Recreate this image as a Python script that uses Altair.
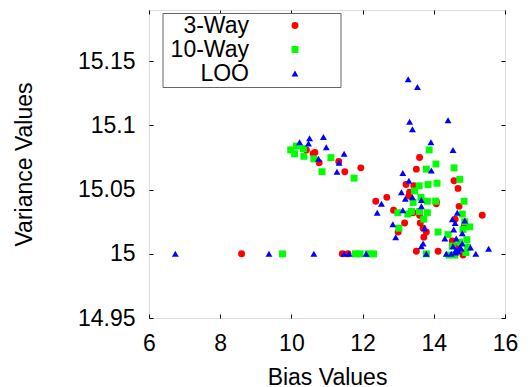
import altair as alt
import pandas as pd

# ---- data ----
series_names = ["3-Way", "10-Way", "LOO"]
series_colors = ["#ff0000", "#00ff00", "#0000ff"]
series_shapes = ["circle", "square", "triangle-up"]

x_3way = [8.60, 11.43, 11.59, 10.42, 10.61, 10.66, 10.78, 11.33, 11.50, 11.95,
          12.37, 12.68, 12.87, 13.00, 13.18, 13.22, 13.30, 13.32, 13.44, 13.42,
          13.51, 13.60, 13.60, 13.62, 13.70, 13.72, 13.79, 13.51, 14.12, 14.07,
          14.07, 14.57, 14.68, 14.71, 14.60, 14.52, 14.66, 14.82, 15.36, 14.86]
y_3way = [15.0, 15.0, 15.0, 15.081, 15.078, 15.079, 15.071, 15.072, 15.064, 15.067,
          15.041, 15.044, 15.034, 15.017, 15.024, 15.054, 15.045, 15.048, 15.053, 15.032,
          15.066, 15.075, 15.030, 15.024, 15.020, 15.013, 15.017, 15.002, 15.002, 15.039,
          15.041, 15.057, 15.051, 15.037, 15.027, 15.010, 15.006, 14.999, 15.030, 15.022]

x_10way = [9.75, 11.80, 11.93, 12.16, 12.31, 9.98, 10.09, 10.14, 10.34, 10.35,
           10.63, 10.86, 11.11, 11.76, 13.87, 14.06, 13.79, 14.57, 14.73, 13.59,
           13.84, 14.09, 13.46, 13.64, 13.42, 13.82, 14.05, 14.85, 12.99, 13.27,
           13.37, 13.60, 13.82, 13.72, 14.80, 13.02, 14.12, 14.40, 14.87, 15.01,
           14.82, 14.93, 14.52, 14.73, 13.79, 14.43, 14.59, 14.90, 14.95]
y_10way = [15.0, 15.0, 15.0, 15.0, 15.0, 15.081, 15.078, 15.084, 15.082, 15.076,
           15.074, 15.064, 15.075, 15.059, 15.081, 15.070, 15.066, 15.067, 15.058, 15.053,
           15.054, 15.055, 15.049, 15.044, 15.040, 15.041, 15.041, 15.041, 15.032, 15.031,
           15.033, 15.033, 15.032, 15.027, 15.031, 15.020, 15.017, 15.015, 15.025, 15.021,
           15.019, 15.011, 15.006, 15.009, 15.0, 14.999, 14.999, 15.001, 15.005]

x_loo = [6.74, 9.37, 10.63, 11.48, 11.62, 12.10, 10.23, 10.48, 10.51, 10.90,
         10.98, 11.48, 10.76, 11.34, 11.28, 13.28, 13.54, 13.32, 13.40, 14.40,
         13.92, 14.54, 13.93, 13.13, 13.30, 13.09, 13.20, 13.40, 13.65, 12.53,
         12.41, 13.13, 13.65, 14.66, 12.85, 12.93, 13.74, 13.70, 13.65, 13.79,
         14.52, 14.60, 14.56, 14.80, 14.31, 14.87, 14.80, 14.73, 14.77, 14.68,
         15.03, 15.18, 15.54, 14.35, 14.49, 14.61, 14.68, 14.63, 14.54, 14.62]
y_loo = [15.0, 15.0, 15.0, 15.0, 15.0, 15.0, 15.087, 15.086, 15.090, 15.091,
         15.083, 15.078, 15.074, 15.071, 15.064, 15.136, 15.130, 15.103, 15.097, 15.104,
         15.087, 15.081, 15.065, 15.063, 15.057, 15.048, 15.043, 15.044, 15.042, 15.039,
         15.032, 15.034, 15.037, 15.032, 15.023, 15.013, 15.020, 15.008, 15.006, 15.0,
         15.027, 15.024, 15.019, 15.016, 15.012, 15.026, 15.008, 15.005, 15.004, 15.002,
         15.005, 15.0, 15.004, 15.0, 15.0, 15.001, 15.002, 15.012, 15.006, 15.003]

x_ticks = [6, 8, 10, 12, 14, 16]
y_ticks = [14.95, 15.0, 15.05, 15.1, 15.15]

rows = []
for name, xs, ys in [("3-Way", x_3way, y_3way), ("10-Way", x_10way, y_10way), ("LOO", x_loo, y_loo)]:
    for xv, yv in zip(xs, ys):
        rows.append({"Method": name, "Bias": xv, "Variance": yv})
df = pd.DataFrame(rows)

FONT = "Liberation Sans"
NBSP = "\u00a0"
ZWSP = "\u200b"
xscale = alt.Scale(domain=[6, 16], nice=False, zero=False)
yscale = alt.Scale(domain=[14.95, 15.19], nice=False, zero=False)

# legend: labels right-aligned, to the left of their symbols (gnuplot style)
color_enc = alt.Color(
    "Method:N",
    scale=alt.Scale(domain=series_names, range=series_colors),
    sort=series_names,
    legend=alt.Legend(
        orient="none", legendX=13.5, legendY=3,
        title=NBSP, titleOrient="right", titlePadding=33, titleFontSize=23,
        labelAlign="right", labelOffset=0, symbolOffset=120,
        labelExpr="datum.label + '" + NBSP * 9 + ZWSP + "'",
        labelFontSize=23, labelFont=FONT, labelColor="black",
        labelLimit=0, symbolSize=48, symbolStrokeWidth=0,
        padding=1, rowPadding=0,
        strokeColor="#666666", fillColor="white",
    ),
)
shape_enc = alt.Shape(
    "Method:N",
    scale=alt.Scale(domain=series_names, range=series_shapes),
    sort=series_names,
    legend=None,
)

points = alt.Chart(df).mark_point(filled=True, size=48, opacity=1).encode(
    x=alt.X("Bias:Q", scale=xscale, title="Bias Values",
            axis=alt.Axis(values=x_ticks, format="~g", domain=False, tickSize=0,
                          labelPadding=14, labelFontSize=23, labelFont=FONT,
                          labelColor="black", titleFontSize=23, titleFont=FONT,
                          titleFontWeight="normal", titleColor="black",
                          titleY=66, titleBaseline="alphabetic",
                          grid=False, labelFlush=False)),
    y=alt.Y("Variance:Q", scale=yscale, title="Variance Values",
            axis=alt.Axis(values=y_ticks, format="~g", domain=False, tickSize=0,
                          labelPadding=14, labelFontSize=23, labelFont=FONT,
                          labelColor="black", titleFontSize=23, titleFont=FONT,
                          titleFontWeight="normal", titleColor="black",
                          titleX=-125, titleY=154, titleAngle=-90,
                          titleAlign="center", titleBaseline="middle",
                          grid=False, labelFlush=False)),
    color=color_enc,
    shape=shape_enc,
)

def tick_layer(xorient, yorient):
    return alt.Chart(df).mark_point(opacity=0).encode(
        x=alt.X("Bias:Q", scale=xscale, title=None,
                axis=alt.Axis(orient=xorient, values=x_ticks, labels=False, domain=False,
                              tickSize=4, offset=-4, tickColor="black", tickWidth=1,
                              grid=False)),
        y=alt.Y("Variance:Q", scale=yscale, title=None,
                axis=alt.Axis(orient=yorient, values=y_ticks, labels=False, domain=False,
                              tickSize=4, offset=-4, tickColor="black", tickWidth=1,
                              grid=False)),
    )

chart = alt.layer(
    points,
    tick_layer("bottom", "left"),
    tick_layer("top", "right"),
).resolve_axis(x="independent", y="independent").properties(
    width=356, height=308,
    autosize=alt.AutoSizeParams(type="none"),
    padding={"left": 141, "top": 2, "right": 17, "bottom": 69},
).configure_view(stroke="black", strokeWidth=1.3).configure(background="white")

chart.save("out.html", embed_options={"renderer": "svg", "actions": False})
